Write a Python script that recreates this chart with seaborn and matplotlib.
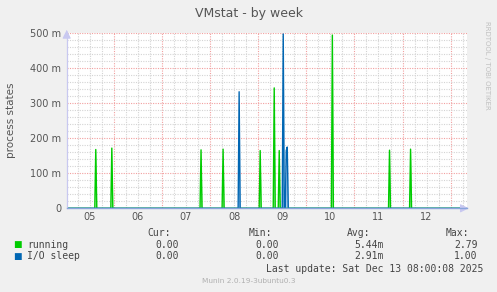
import matplotlib
matplotlib.use("Agg")
import matplotlib.pyplot as plt
import matplotlib.dates as mdates
from matplotlib.ticker import MultipleLocator, FuncFormatter
import numpy as np
import pandas as pd
import seaborn as sns

# ---------------- data ----------------
range_start = "2025-12-05 00:30"
range_end = "2025-12-13 08:00"

running_times = ["2025-12-05 15:00", "2025-12-05 23:00", "2025-12-07 19:30",
                 "2025-12-08 06:30", "2025-12-09 01:00", "2025-12-09 08:00",
                 "2025-12-09 10:30", "2025-12-10 13:00", "2025-12-11 17:30",
                 "2025-12-12 04:00"]
running_values = [0.168, 0.172, 0.167, 0.169, 0.165, 0.344, 0.165, 0.495, 0.166, 0.169]

io_times = ["2025-12-08 14:30", "2025-12-09 12:30", "2025-12-09 14:00", "2025-12-09 14:30"]
io_values = [0.333, 0.498, 0.165, 0.175]

series_names = ["running", "I/O sleep"]
series_colors = ["#00CC00", "#0066B3"]
fill_colors = ["#66dd66", "#66a3d9"]

col_headers = ["Cur:", "Min:", "Avg:", "Max:"]
running_stats = ["0.00", "0.00", "5.44m", "2.79"]
io_stats = ["0.00", "0.00", "2.91m", "1.00"]

title = "VMstat - by week"
ylabel = "process states"
last_update = "Last update: Sat Dec 13 08:00:08 2025"
footer = "Munin 2.0.19-3ubuntu0.3"
side_text = "RRDTOOL / TOBI OETIKER"

# ---------------- build series ----------------
idx = pd.date_range(range_start, range_end, freq="30min")
frames = []
for name, times, vals in [(series_names[0], running_times, running_values),
                          (series_names[1], io_times, io_values)]:
    s = pd.Series(0.0, index=idx)
    s[pd.to_datetime(times)] = vals
    frames.append(pd.DataFrame({"time": idx, "value": s.values, "series": name}))
df = pd.concat(frames, ignore_index=True)

# ---------------- figure ----------------
sns.set_style("white")
plt.rcParams["font.family"] = ["DejaVu Sans"]

W, H = 497, 292
fig = plt.figure(figsize=(W / 100, H / 100), dpi=100, facecolor="#f0f0f0")
ax = fig.add_axes([66.7 / W, 1 - 208.3 / H, 400 / W, 175 / H])
ax.set_facecolor("white")

# fills first
for name, fc in zip(series_names, fill_colors):
    sub = df[df["series"] == name]
    ax.fill_between(sub["time"], sub["value"], 0, color=fc, alpha=0.6, lw=0, zorder=2)

sns.lineplot(data=df, x="time", y="value", hue="series",
             palette=dict(zip(series_names, series_colors)),
             hue_order=series_names, legend=False, lw=1.0, ax=ax, zorder=3)

ax.set_xlim(pd.Timestamp(range_start), pd.Timestamp(range_end))
ax.set_ylim(0, 0.5)

# x grid: red at midnight, gray every 6h, labels at noon
ax.xaxis.set_major_locator(mdates.DayLocator())
ax.xaxis.set_major_formatter(FuncFormatter(lambda v, p: ""))
ax.xaxis.set_minor_locator(mdates.HourLocator(byhour=[6, 12, 18]))
def minor_fmt(v, p):
    d = mdates.num2date(v)
    return d.strftime("%d") if d.hour == 12 else ""
ax.xaxis.set_minor_formatter(FuncFormatter(minor_fmt))

ax.yaxis.set_major_locator(MultipleLocator(0.1))
ax.yaxis.set_minor_locator(MultipleLocator(0.02))
ax.yaxis.set_major_formatter(FuncFormatter(lambda v, p: "0" if abs(v) < 1e-9 else f"{v*1000:.0f} m"))

red = "#f2a0a0"
gray = "#d4d4d4"
ax.grid(which="major", axis="both", color=red, linestyle=(0, (1, 1.2)), lw=0.8, zorder=1)
ax.grid(which="minor", axis="both", color=gray, linestyle=(0, (1, 1.2)), lw=0.8, zorder=0.5)
ax.set_axisbelow(True)

ax.tick_params(axis="x", which="major", length=2, color=red, width=0.8, pad=2)
ax.tick_params(axis="x", which="minor", length=0, labelsize=7, labelcolor="#555555", pad=3)
ax.tick_params(axis="y", which="major", length=2, color=red, width=0.8, labelsize=7,
               labelcolor="#555555", pad=2)
ax.tick_params(axis="y", which="minor", length=0)
for lbl in ax.xaxis.get_minorticklabels():
    lbl.set_x(lbl.get_position()[0])

for sp in ["top", "right"]:
    ax.spines[sp].set_visible(False)
ax.spines["left"].set_color("#c8c8f0")
ax.spines["left"].set_linewidth(0.9)
ax.spines["bottom"].set_color("#8aa4dc")
ax.spines["bottom"].set_linewidth(1.0)
ax.spines["bottom"].set_zorder(5)
ax.spines["left"].set_zorder(5)

# axis arrows
ax.annotate("", xy=(1.012, 0), xycoords="axes fraction", xytext=(0.99, 0),
            arrowprops=dict(arrowstyle="-|>,head_length=0.5,head_width=0.25",
                            color="#c8c8f0", lw=0.8), annotation_clip=False)
ax.annotate("", xy=(0, 1.035), xycoords="axes fraction", xytext=(0, 0.99),
            arrowprops=dict(arrowstyle="-|>,head_length=0.5,head_width=0.25",
                            color="#c8c8f0", lw=0.8), annotation_clip=False)

ax.set_xlabel("")
ax.set_ylabel("")

# ---------------- texts ----------------
def fy(ypx):
    return 1 - ypx / H

fig.text(249 / W, fy(13.3), title, ha="center", va="center", fontsize=9, color="#555555")
fig.text(11.5 / W, fy(120), ylabel, ha="center", va="center", rotation=90, fontsize=7.5,
         color="#555555")
fig.text(487 / W, fy(65), side_text, ha="center", va="center", rotation=270, fontsize=5,
         color="#c0c0c0")

mono = "DejaVu Sans Mono"
tc = "#444444"
header_right = [171, 272, 370, 469.5]
value_right = [179, 279, 384, 477.5]
for hx, h in zip(header_right, col_headers):
    fig.text(hx / W, fy(233.3), h, ha="right", va="center", family=mono, fontsize=7, color=tc)

rows = [(series_names[0], series_colors[0], running_stats, 244.7),
        (series_names[1], series_colors[1], io_stats, 256.2)]
for name, col, stats, ypx in rows:
    fig.text(13.5 / W, fy(ypx), "■", ha="left", va="center", family="DejaVu Sans",
             fontsize=6.5, color=col)
    fig.text(27.3 / W, fy(ypx), name, ha="left", va="center", family=mono, fontsize=7, color=tc)
    for vx, v in zip(value_right, stats):
        fig.text(vx / W, fy(ypx), v, ha="right", va="center", family=mono, fontsize=7, color=tc)

fig.text(483.5 / W, fy(268.7), last_update, ha="right", va="center", family=mono,
         fontsize=7, color=tc)
fig.text(248.5 / W, fy(281), footer, ha="center", va="center", fontsize=5.3, color="#b0b0b0")

fig.savefig("out.png", dpi=100, facecolor=fig.get_facecolor())
